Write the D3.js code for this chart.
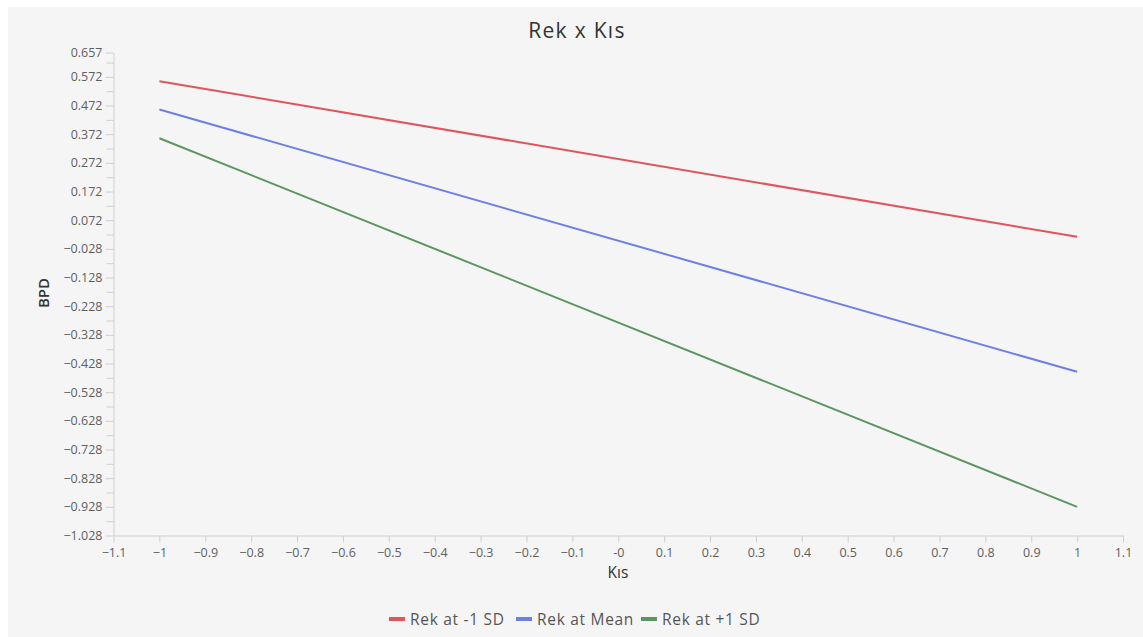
<!DOCTYPE html>
<html>
<head>
<meta charset="utf-8">
<script src="https://cdn.jsdelivr.net/npm/d3@7"></script>
<style>
  html, body { margin: 0; padding: 0; background: #ffffff; }
  svg { display: block; font-family: "Open Sans", "Noto Sans", sans-serif; }
</style>
</head>
<body>
<svg id="chart" width="1143" height="637"></svg>
<script>
// Simple slopes: BPD predicted across Kıs at three levels of Rek
const xPoints = [-1, 1];
const seriesNames = ["Rek at -1 SD", "Rek at Mean", "Rek at +1 SD"];
const lowValues = [0.557, 0.014];
const meanValues = [0.458, -0.457];
const highValues = [0.358, -0.928];
const seriesColors = ["#e0555d", "#6e80e6", "#5c9562"];

const xTicks = d3.range(-11, 12).map(d => d / 10);
const yMajorTicks = d3.range(0, 17).map(i => +(-1.028 + i * 0.1).toFixed(3)).concat([0.657]);
const yMinorTicks = d3.range(0, 17).map(i => +(-0.978 + i * 0.1).toFixed(3));

const svg = d3.select("#chart");
const W = 1143, H = 637;
const margin = { left: 113.5, right: 20, top: 52.5, bottom: 101.5 };

// panel background
svg.append("rect").attr("x", 8).attr("y", 7).attr("width", W - 8).attr("height", H - 7)
  .attr("fill", "#f5f5f5");

const x = d3.scaleLinear().domain([-1.1, 1.1]).range([margin.left, W - margin.right]);
const y = d3.scaleLinear().domain([-1.028, 0.657]).range([H - margin.bottom, margin.top]);

const fmtX = d => (d === 0 ? "-0" : d3.format("")(d));
const textColor = "#5f5f5f";
const axisColor = "#cfcfcf";

// x axis
const gx = svg.append("g").attr("transform", `translate(0,${y(-1.028)})`)
  .call(d3.axisBottom(x).tickValues(xTicks).tickFormat(fmtX).tickSize(7).tickSizeOuter(0));
gx.select(".domain").attr("stroke", axisColor);
gx.selectAll(".tick line").attr("stroke", axisColor);
gx.selectAll(".tick text").attr("fill", textColor).attr("font-size", 12.5)
  .attr("font-family", "'Open Sans', sans-serif").attr("dy", "0.95em");

// y axis, major ticks
const gy = svg.append("g").attr("transform", `translate(${x(-1.1)},0)`)
  .call(d3.axisLeft(y).tickValues(yMajorTicks).tickFormat(d3.format(".3f")).tickSize(8).tickSizeOuter(0));
gy.select(".domain").attr("stroke", axisColor);
gy.selectAll(".tick line").attr("stroke", axisColor);
gy.selectAll(".tick text").attr("fill", textColor).attr("font-size", 12.5)
  .attr("font-family", "'Open Sans', sans-serif").attr("x", -11);

// y axis, minor ticks
svg.append("g").attr("transform", `translate(${x(-1.1)},0)`)
  .call(d3.axisLeft(y).tickValues(yMinorTicks).tickFormat("").tickSize(7).tickSizeOuter(0))
  .call(g => g.select(".domain").remove())
  .call(g => g.selectAll(".tick line").attr("stroke", axisColor));

// series lines
const allSeries = [lowValues, meanValues, highValues];
const line = d3.line().x((d, i) => x(xPoints[i])).y(d => y(d));
svg.append("g").selectAll("path").data(allSeries).join("path")
  .attr("d", d => line(d))
  .attr("fill", "none")
  .attr("stroke", (d, i) => seriesColors[i])
  .attr("stroke-width", 2);

// titles
svg.append("text").attr("x", 577).attr("y", 38).attr("text-anchor", "middle")
  .attr("font-size", 21).attr("letter-spacing", 1.3).attr("fill", "#333").text("Rek x Kıs");
svg.append("text").attr("x", 618).attr("y", 578).attr("text-anchor", "middle")
  .attr("font-size", 15.5).attr("fill", "#333").text("Kıs");
svg.append("text").attr("transform", "translate(49,293) rotate(-90)").attr("text-anchor", "middle")
  .attr("font-size", 15).attr("font-weight", 600).attr("fill", "#333").text("BPD");

// legend
const legendItems = [
  { name: seriesNames[0], color: seriesColors[0], sx: 389 },
  { name: seriesNames[1], color: seriesColors[1], sx: 516 },
  { name: seriesNames[2], color: seriesColors[2], sx: 641 }
];
const lg = svg.append("g").selectAll("g").data(legendItems).join("g")
  .attr("transform", d => `translate(${d.sx},619)`);
lg.append("rect").attr("x", 0).attr("y", -2).attr("width", 16).attr("height", 4)
  .attr("fill", d => d.color);
lg.append("text").attr("x", 21).attr("y", 5.5).attr("font-size", 15.5).attr("letter-spacing", 0.7)
  .attr("fill", "#555").text(d => d.name);
</script>
</body>
</html>
